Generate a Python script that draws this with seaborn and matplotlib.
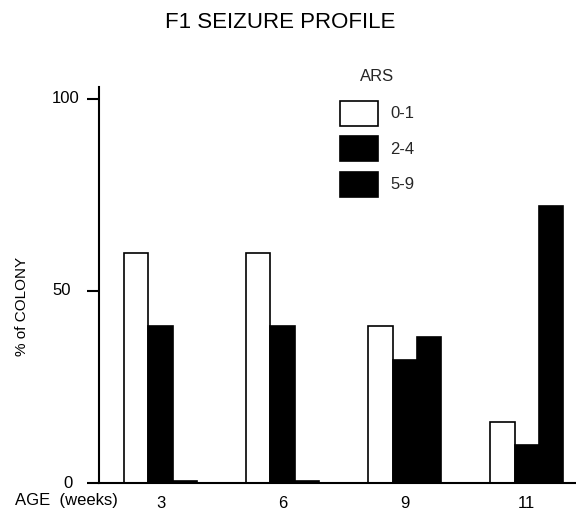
import matplotlib
matplotlib.use("Agg")
import matplotlib.pyplot as plt
import seaborn as sns
import pandas as pd

ages = ["3", "6", "9", "11"]
ars_groups = ["0-1", "2-4", "5-9"]
vals_01 = [60, 60, 41, 16]
vals_24 = [41, 41, 32, 10]
vals_59 = [0.4, 0.4, 38, 72]
y_ticks = [0, 50, 100]

rows = []
for grp, vals in zip(ars_groups, [vals_01, vals_24, vals_59]):
    for a, v in zip(ages, vals):
        rows.append({"age": a, "ARS": grp, "pct": v})
df = pd.DataFrame(rows)

sns.set_theme(style="white")
plt.rcParams["font.family"] = ["Liberation Sans", "DejaVu Sans"]

W, H = 576, 514
fig = plt.figure(figsize=(W / 100, H / 100), dpi=100)
ax = fig.add_axes([99 / W, (H - 483) / H, (W - 99) / W + 0.01, (483 - 87) / H])

sns.barplot(data=df, x="age", y="pct", hue="ARS", order=ages, hue_order=ars_groups,
            palette={"0-1": "white", "2-4": "black", "5-9": "black"},
            edgecolor="black", linewidth=1.2, width=0.6, saturation=1,
            errorbar=None, ax=ax)

ax.set_xlim(-0.505, 3.45)
ax.set_ylim(0, 103.1)
ax.set_xlabel("")
ax.set_ylabel("")
for s in ["top", "right"]:
    ax.spines[s].set_visible(False)
for s in ["left", "bottom"]:
    ax.spines[s].set_color("black")
    ax.spines[s].set_linewidth(1.5)

ax.set_yticks(y_ticks)
ax.tick_params(axis="y", length=9, width=1.5, color="black", labelleft=False, left=True)
ax.tick_params(axis="x", length=0, pad=9, labelsize=12, labelcolor="black")

# y tick labels (left-aligned as in reference)
ytrans = ax.get_yaxis_transform()
label_x = {0: 63, 50: 52, 100: 52}
for t in y_ticks:
    ax.text((label_x[t] - 99) / (W - 99 + 5.76), t, str(t), transform=ytrans,
            ha="left", va="center", fontsize=12, color="black")

fig.text(15 / W, (H - 500) / H, "AGE  (weeks)", ha="left", va="center",
         fontsize=12, color="black")
fig.text(22 / W, (H - 306) / H, "% of COLONY", rotation=90, ha="center",
         va="center", fontsize=11, color="black")
fig.text(280 / W, (H - 22) / H, "F1 SEIZURE PROFILE", ha="center", va="center",
         fontsize=16, color="black")

handles, labels = ax.get_legend_handles_labels()
leg = ax.legend(handles, labels, title="ARS", frameon=False, loc="upper left",
                bbox_to_anchor=(340 / W, 1 - 69 / H), bbox_transform=fig.transFigure,
                borderpad=0, borderaxespad=0, handlelength=2.3, handleheight=1.93,
                labelspacing=0.63, handletextpad=0.7, fontsize=12, title_fontsize=12)
leg._legend_box.sep = 12

fig.savefig("out.png", dpi=100)
